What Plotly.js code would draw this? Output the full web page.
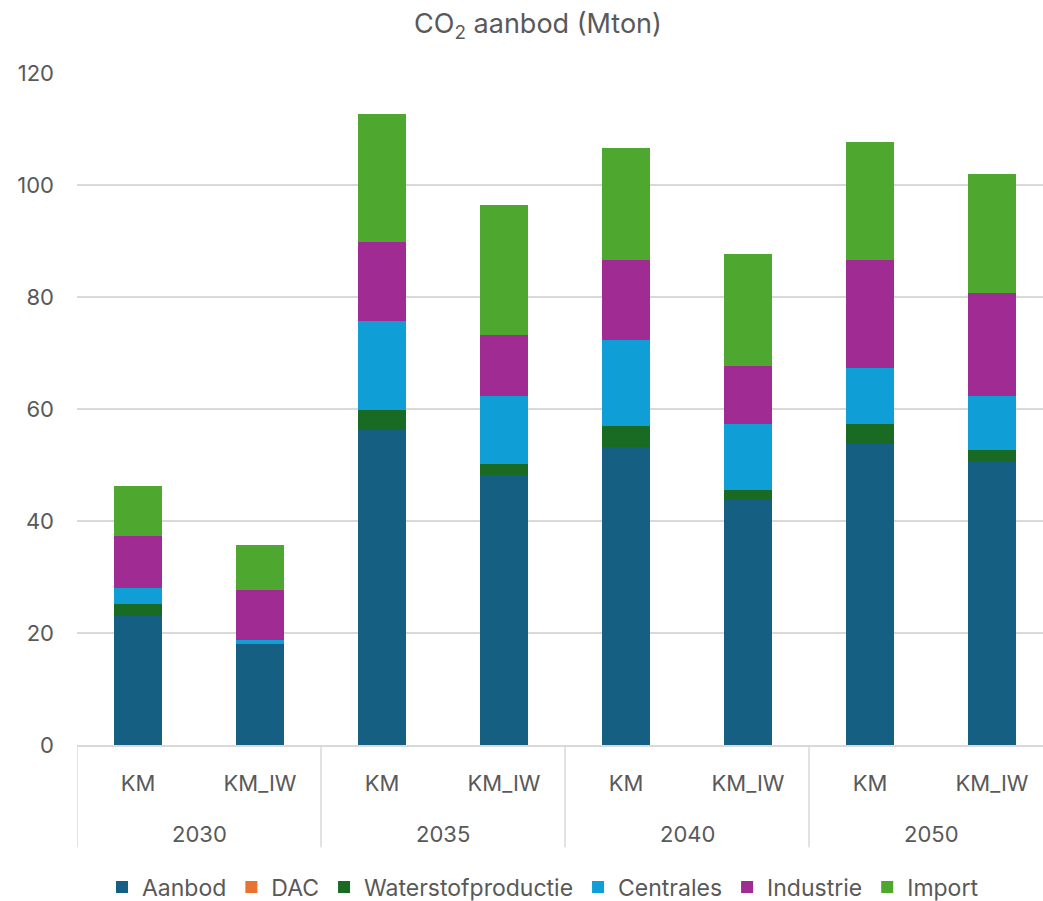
<!DOCTYPE html>
<html>
<head>
<meta charset="utf-8">
<script src="https://cdn.plot.ly/plotly-3.0.1.min.js"></script>
<style>html,body{margin:0;padding:0;background:#fff;} #chart{width:1043px;height:901px;}</style>
</head>
<body>
<div id="chart"></div>
<script>
const years = ['2030', '2035', '2040', '2050'];
const barLabels = ['KM', 'KM_IW', 'KM', 'KM_IW', 'KM', 'KM_IW', 'KM', 'KM_IW'];
const seriesNames = ['Aanbod', 'DAC', 'Waterstofproductie', 'Centrales', 'Industrie', 'Import'];
const aanbod     = [23.0, 18.0, 56.2, 48.3, 53.3, 43.7, 53.7, 50.8];
const dac        = [0, 0, 0, 0, 0, 0, 0, 0];
const waterstof  = [2.1, 0, 3.6, 1.8, 3.6, 1.8, 3.6, 1.8];
const centrales  = [2.9, 0.7, 16.0, 12.2, 15.4, 11.8, 10.0, 9.7];
const industrie  = [9.3, 8.9, 14.0, 11.0, 14.3, 10.3, 19.3, 18.5];
const importVals = [8.9, 8.2, 22.8, 23.2, 20.0, 20.0, 21.0, 21.1];
const yTicks = [0, 20, 40, 60, 80, 100, 120];

const colors = ['#156082', '#E97132', '#196B24', '#0F9ED5', '#A02B93', '#4EA72E'];
const values = [aanbod, dac, waterstof, centrales, industrie, importVals];
const xIdx = barLabels.map((_, i) => i);
const perGroup = barLabels.length / years.length;

const FONT = 'Inter, "Liberation Sans", Arial, sans-serif';
const TXT = '#595959';
const GRID = '#D9D9D9';

const traces = values.map((v, k) => ({
  type: 'bar',
  name: seriesNames[k],
  x: xIdx,
  y: v,
  marker: {color: colors[k], line: {width: 0}},
  hoverinfo: 'name+y'
}));

const shapes = [];
for (let g = 0; g <= years.length; g++) {
  shapes.push({
    type: 'line', xref: 'x', yref: 'paper',
    x0: g * perGroup - 0.5, x1: g * perGroup - 0.5,
    y0: 0, y1: -0.152,
    line: {color: GRID, width: 1.5}
  });
}

const annotations = years.map((yr, g) => ({
  text: yr, xref: 'x', yref: 'paper',
  x: g * perGroup + (perGroup - 1) / 2, y: -0.1325,
  xanchor: 'center', yanchor: 'middle', showarrow: false,
  font: {family: FONT, size: 22, color: TXT}
}));

const layout = {
  width: 1043, height: 901,
  margin: {l: 77, r: 0, t: 73, b: 156},
  paper_bgcolor: '#ffffff', plot_bgcolor: '#ffffff',
  barmode: 'stack',
  bargap: 1 - 48 / 122,
  font: {family: FONT, size: 22, color: TXT},
  title: {
    text: 'CO<sub>2</sub> aanbod (Mton)',
    font: {family: FONT, size: 27, color: TXT},
    xref: 'container', x: 538 / 1043, xanchor: 'center',
    yref: 'container', y: 1 - 24 / 901, yanchor: 'middle'
  },
  xaxis: {
    range: [-0.5, 7.418],
    tickvals: xIdx, ticktext: barLabels,
    showgrid: false, zeroline: false,
    showline: true, linecolor: GRID, linewidth: 1.5,
    ticks: '', ticklabelstandoff: 18,
    tickfont: {family: FONT, size: 22, color: TXT},
    fixedrange: true
  },
  yaxis: {
    range: [0, 120],
    tickvals: yTicks,
    showgrid: true, gridcolor: GRID, gridwidth: 1.5,
    zeroline: false, showline: false,
    ticks: '', ticklabelstandoff: 22,
    tickfont: {family: FONT, size: 22, color: TXT},
    fixedrange: true
  },
  showlegend: true,
  legend: {
    orientation: 'h', traceorder: 'normal',
    xref: 'container', x: 543 / 1043, xanchor: 'center',
    yref: 'container', y: 1 - 887 / 901, yanchor: 'middle',
    font: {family: FONT, size: 23, color: TXT},
    itemwidth: 30, bgcolor: 'rgba(0,0,0,0)'
  },
  shapes: shapes,
  annotations: annotations
};

Plotly.newPlot('chart', traces, layout, {displayModeBar: false, staticPlot: true});
</script>
</body>
</html>
